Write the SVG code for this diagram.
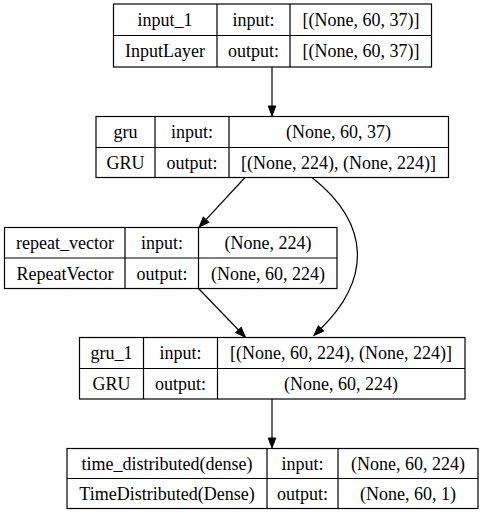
<svg xmlns="http://www.w3.org/2000/svg" width="483" height="516" viewBox="0 0 483 516">
<style>
  .box { fill: #fff; stroke: #000; stroke-width: 1.2; }
  .sep { stroke: #000; stroke-width: 1.2; fill: none; }
  text { font-family: "Liberation Serif", "Times New Roman", serif; font-size: 18px; fill: #000; text-anchor: middle; dominant-baseline: central; }
  .edge { stroke: #000; stroke-width: 1.2; fill: none; marker-end: url(#arrow); }
</style>
<defs>
  <marker id="arrow" markerUnits="userSpaceOnUse" markerWidth="11" markerHeight="8" refX="0" refY="3.75" orient="auto" overflow="visible">
    <path d="M0,0 L10,3.75 L0,7.5 z" fill="#000" stroke="#000" stroke-width="1"/>
  </marker>
</defs>
<rect width="483" height="516" fill="#fff"/>

<g id="connectors">
  <path class="edge" d="M272,67 L272,106"/>
  <path class="edge" d="M245,177.5 L206,219.7"/>
  <path class="edge" d="M312,177.5 C372,225 370,280 321,328.5"/>
  <path class="edge" d="M198.5,288.5 L238.5,330"/>
  <path class="edge" d="M272,399 L272,438"/>
</g>

<g id="input_1">
  <rect class="box" x="113.5" y="4" width="318" height="63"/>
  <path class="sep" d="M217,4 V67 M290,4 V67 M113.5,35.5 H431.5"/>
  <text x="165" y="20">input_1</text>
  <text x="253.5" y="20">input:</text>
  <text x="361" y="20">[(None, 60, 37)]</text>
  <text x="165" y="51">InputLayer</text>
  <text x="253.5" y="51">output:</text>
  <text x="361" y="51">[(None, 60, 37)]</text>
</g>

<g id="gru">
  <rect class="box" x="96" y="116.5" width="352.5" height="61"/>
  <path class="sep" d="M155,116.5 V177.5 M229,116.5 V177.5 M96,147.5 H448.5"/>
  <text x="125.5" y="132">gru</text>
  <text x="192" y="132">input:</text>
  <text x="338.5" y="132">(None, 60, 37)</text>
  <text x="125.5" y="162.5">GRU</text>
  <text x="192" y="162.5">output:</text>
  <text x="338.5" y="162.5">[(None, 224), (None, 224)]</text>
</g>

<g id="repeat_vector">
  <rect class="box" x="4.5" y="227.5" width="332.5" height="61"/>
  <path class="sep" d="M125,227.5 V288.5 M198.5,227.5 V288.5 M4.5,258 H337"/>
  <text x="65" y="243">repeat_vector</text>
  <text x="162" y="243">input:</text>
  <text x="268" y="243">(None, 224)</text>
  <text x="65" y="273.5">RepeatVector</text>
  <text x="162" y="273.5">output:</text>
  <text x="268" y="273.5">(None, 60, 224)</text>
</g>

<g id="gru_1">
  <rect class="box" x="79.5" y="337.5" width="385.5" height="61.5"/>
  <path class="sep" d="M143.5,337.5 V399 M217.5,337.5 V399 M79.5,368.5 H465"/>
  <text x="111.5" y="353">gru_1</text>
  <text x="180.5" y="353">input:</text>
  <text x="341" y="353">[(None, 60, 224), (None, 224)]</text>
  <text x="111.5" y="384">GRU</text>
  <text x="180.5" y="384">output:</text>
  <text x="341" y="384">(None, 60, 224)</text>
</g>

<g id="time_distributed">
  <rect class="box" x="67" y="448.5" width="411" height="60"/>
  <path class="sep" d="M267,448.5 V508.5 M338,448.5 V508.5 M67,478.5 H478"/>
  <text x="167" y="463.5">time_distributed(dense)</text>
  <text x="302.5" y="463.5">input:</text>
  <text x="408" y="463.5">(None, 60, 224)</text>
  <text x="167" y="493.5">TimeDistributed(Dense)</text>
  <text x="302.5" y="493.5">output:</text>
  <text x="408" y="493.5">(None, 60, 1)</text>
</g>
</svg>
